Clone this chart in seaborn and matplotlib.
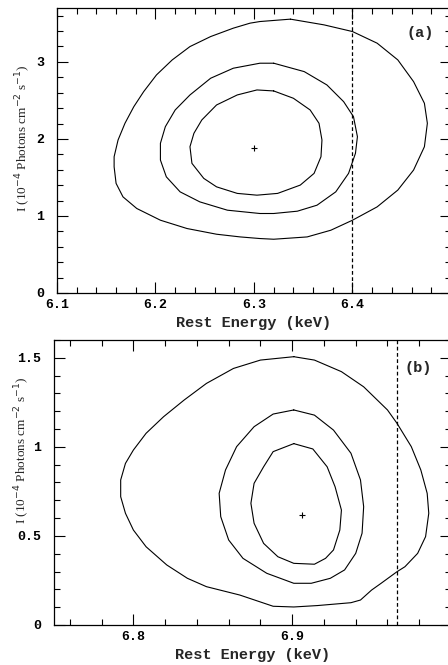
import numpy as np
import pandas as pd
import matplotlib
matplotlib.use("Agg")
import matplotlib.pyplot as plt
import seaborn as sns
from matplotlib.ticker import MultipleLocator

sns.set_theme(style="ticks")
plt.rcParams['font.family'] = ['DejaVu Serif']

# ---------------- Panel (a) data ----------------
a_outer_x = [6.337, 6.306, 6.296, 6.279, 6.256, 6.235, 6.217, 6.201, 6.188, 6.178, 6.169, 6.162, 6.158,
             6.158, 6.160, 6.167, 6.181, 6.205, 6.232, 6.262, 6.286, 6.306, 6.320, 6.354, 6.378, 6.400,
             6.425, 6.446, 6.462, 6.473, 6.476, 6.473, 6.462, 6.446, 6.425, 6.400, 6.371, 6.337]
a_outer_y = [3.555, 3.524, 3.503, 3.438, 3.329, 3.199, 3.026, 2.831, 2.614, 2.419, 2.203, 1.986, 1.769,
             1.638, 1.423, 1.248, 1.097, 0.945, 0.837, 0.763, 0.728, 0.707, 0.698, 0.728, 0.815, 0.945,
             1.118, 1.336, 1.596, 1.899, 2.203, 2.463, 2.744, 3.026, 3.243, 3.394, 3.481, 3.555]
a_mid_x = [6.320, 6.306, 6.279, 6.256, 6.235, 6.220, 6.210, 6.205, 6.205, 6.211, 6.225, 6.245, 6.273,
           6.306, 6.320, 6.344, 6.364, 6.383, 6.396, 6.403, 6.405, 6.401, 6.391, 6.374, 6.351, 6.320]
a_mid_y = [2.983, 2.983, 2.918, 2.788, 2.571, 2.376, 2.159, 1.943, 1.726, 1.508, 1.313, 1.183, 1.075,
           1.032, 1.032, 1.062, 1.140, 1.313, 1.553, 1.813, 2.029, 2.289, 2.484, 2.701, 2.874, 2.983]
a_inner_x = [6.320, 6.303, 6.283, 6.262, 6.247, 6.239, 6.235, 6.237, 6.249, 6.262, 6.283, 6.303, 6.324,
             6.347, 6.361, 6.368, 6.369, 6.366, 6.357, 6.340, 6.320]
a_inner_y = [2.623, 2.636, 2.571, 2.441, 2.246, 2.073, 1.899, 1.683, 1.488, 1.378, 1.293, 1.270, 1.293,
             1.401, 1.553, 1.769, 1.986, 2.203, 2.376, 2.528, 2.623]
a_best = (6.300, 1.886)
a_line = 6.40

# ---------------- Panel (b) data ----------------
b_outer_x = [6.901, 6.880, 6.863, 6.846, 6.832, 6.819, 6.808, 6.800, 6.795, 6.792, 6.792, 6.795, 6.800,
             6.808, 6.821, 6.834, 6.846, 6.867, 6.888, 6.901, 6.916, 6.937, 6.943, 6.950, 6.956, 6.966,
             6.971, 6.979, 6.984, 6.986, 6.985, 6.981, 6.975, 6.966, 6.960, 6.945, 6.931, 6.914, 6.901]
b_outer_y = [1.506, 1.487, 1.440, 1.356, 1.263, 1.169, 1.076, 0.982, 0.907, 0.814, 0.720, 0.627, 0.533,
             0.439, 0.337, 0.262, 0.215, 0.168, 0.105, 0.101, 0.109, 0.125, 0.140, 0.196, 0.234, 0.299,
             0.327, 0.402, 0.496, 0.627, 0.739, 0.870, 1.001, 1.132, 1.207, 1.337, 1.422, 1.487, 1.506]
b_mid_x = [6.901, 6.888, 6.876, 6.865, 6.858, 6.854, 6.855, 6.860, 6.869, 6.884, 6.901, 6.912, 6.924,
           6.933, 6.940, 6.944, 6.945, 6.943, 6.937, 6.926, 6.914, 6.901]
b_mid_y = [1.207, 1.184, 1.113, 1.001, 0.870, 0.739, 0.608, 0.477, 0.374, 0.290, 0.234, 0.234, 0.262,
           0.309, 0.402, 0.515, 0.664, 0.814, 0.964, 1.094, 1.178, 1.207]
b_inner_x = [6.901, 6.888, 6.882, 6.876, 6.874, 6.876, 6.882, 6.891, 6.901, 6.914, 6.921, 6.926, 6.930,
             6.931, 6.927, 6.922, 6.913, 6.901]
b_inner_y = [1.018, 0.973, 0.888, 0.795, 0.683, 0.571, 0.458, 0.383, 0.346, 0.341, 0.374, 0.421, 0.533,
             0.645, 0.776, 0.888, 0.988, 1.018]
b_best = (6.906, 0.617)
b_line = 6.966

xlabel = "Rest Energy (keV)"
ylabel = r"I (10$^{-4}$ Photons cm$^{-2}$ s$^{-1}$)"

MONO = ["Liberation Mono", "DejaVu Sans Mono"]

fig = plt.figure(figsize=(4.48, 6.65), dpi=100)
ax_a = fig.add_axes([0.1272, 0.5594, 0.8795, 0.4286])
ax_b = fig.add_axes([0.1205, 0.0602, 0.8862, 0.4286])


def draw(ax, contours, best, vline, xlim, ylim, xmin, ymin, xticks, yticks, ytl, tag, tagpos,
         ylab_xy):
    for cx, cy in contours:
        df = pd.DataFrame({"x": cx, "y": cy})
        sns.lineplot(data=df, x="x", y="y", sort=False, estimator=None, ax=ax,
                     color="black", linewidth=0.8)
    ax.plot([best[0]], [best[1]], marker="+", color="black", markersize=4, mew=0.8, linestyle="none")
    ax.axvline(vline, color="black", linestyle=(0, (3, 2)), linewidth=0.9)
    ax.set_xlim(*xlim)
    ax.set_ylim(*ylim)
    ax.set_xticks(xticks)
    ax.set_xticklabels([f"{t:g}" for t in xticks])
    ax.set_yticks(yticks)
    ax.set_yticklabels(ytl)
    ax.xaxis.set_minor_locator(MultipleLocator(xmin))
    ax.yaxis.set_minor_locator(MultipleLocator(ymin))
    ax.tick_params(which="both", direction="in", top=True, right=True, colors="black")
    ax.tick_params(which="major", length=8, width=0.8)
    ax.tick_params(which="minor", length=4, width=0.8)
    ax.tick_params(axis="y", which="major", pad=9)
    ax.tick_params(axis="x", which="major", pad=4)
    for lab in ax.get_xticklabels() + ax.get_yticklabels():
        lab.set_fontfamily(MONO)
        lab.set_fontweight("bold")
        lab.set_fontsize(9.5)
    for s in ax.spines.values():
        s.set_linewidth(0.9)
        s.set_color("black")
    ax.set_xlabel(xlabel, fontsize=11, fontweight="bold", family=MONO, labelpad=4)
    ax.set_ylabel(ylabel, fontsize=9.5, family="Liberation Serif")
    ax.yaxis.set_label_coords(*ylab_xy)
    ax.text(tagpos[0], tagpos[1], tag, transform=ax.transAxes, ha="center", va="center",
            fontsize=11, fontweight="bold", family=MONO)
    ax.set_facecolor("white")


draw(ax_a, [(a_outer_x, a_outer_y), (a_mid_x, a_mid_y), (a_inner_x, a_inner_y)], a_best, a_line,
     (6.1, 6.5), (0, 3.7), 0.02, 0.2,
     [6.1, 6.2, 6.3, 6.4], [0, 1, 2, 3], ["0", "1", "2", "3"], "(a)", (0.921, 0.912),
     (-0.061, 0.545))
draw(ax_b, [(b_outer_x, b_outer_y), (b_mid_x, b_mid_y), (b_inner_x, b_inner_y)], b_best, b_line,
     (6.75, 7.0), (0, 1.6), 0.02, 0.1,
     [6.8, 6.9], [0, 0.5, 1, 1.5], ["0", "0.5", "1", "1.5"], "(b)", (0.917, 0.902),
     (-0.055, 0.615))

fig.savefig("out.png", dpi=100, facecolor="white")
